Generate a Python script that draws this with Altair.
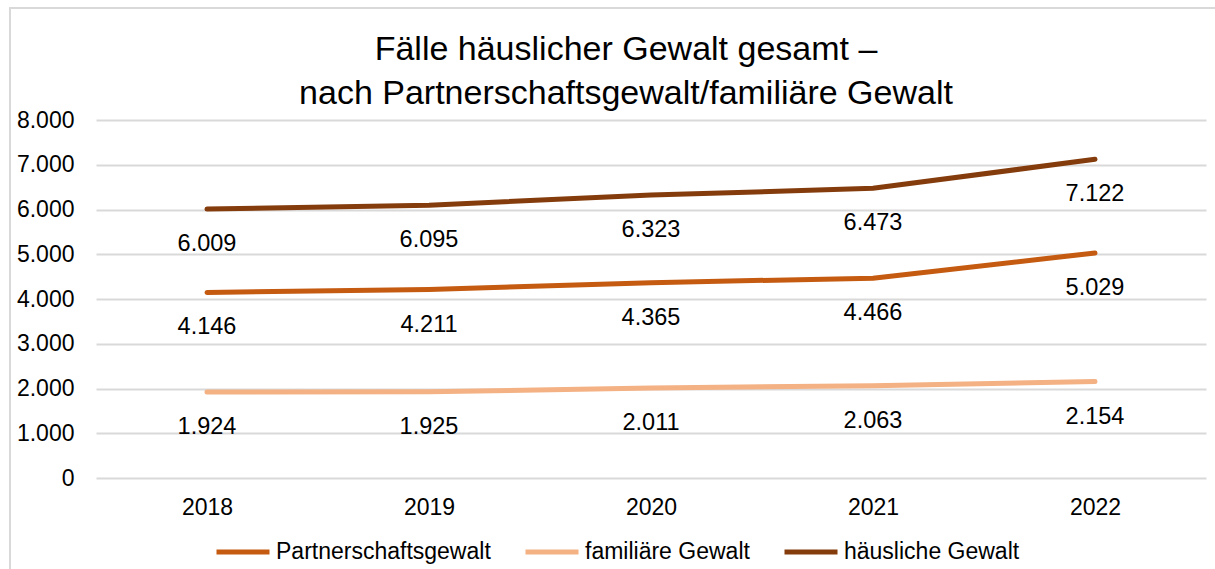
import altair as alt
import pandas as pd

years = ["2018", "2019", "2020", "2021", "2022"]
partner = [4146, 4211, 4365, 4466, 5029]
familie = [1924, 1925, 2011, 2063, 2154]
haeuslich = [6009, 6095, 6323, 6473, 7122]
series_names = ["Partnerschaftsgewalt", "familiäre Gewalt", "häusliche Gewalt"]
series_colors = ["#C55A11", "#F4B183", "#843C0C"]
y_ticks = [0, 1000, 2000, 3000, 4000, 5000, 6000, 7000, 8000]
title_lines = ["Fälle häuslicher Gewalt gesamt –", "nach Partnerschaftsgewalt/familiäre Gewalt"]

rows = []
for name, vals in zip(series_names, [partner, familie, haeuslich]):
    for y, v in zip(years, vals):
        rows.append({"Jahr": y, "Serie": name, "Wert": v})
df = pd.DataFrame(rows)

FONT = "Liberation Sans"

x_enc = alt.X("Jahr:O", scale=alt.Scale(type="point", padding=0.5),
              axis=alt.Axis(title=None, labelAngle=0, ticks=False, tickSize=0, domain=False,
                            labelPadding=18, labelFontSize=23, labelColor="#000000",
                            labelFont=FONT, grid=False))
y_enc = alt.Y("Wert:Q", scale=alt.Scale(domain=[0, 8000], nice=False),
              axis=alt.Axis(title=None, values=y_ticks, ticks=False, tickSize=0, domain=False,
                            labelPadding=22, labelFontSize=23, labelColor="#000000",
                            labelFont=FONT, gridColor="#D9D9D9", gridWidth=2,
                            labelExpr="replace(format(datum.value, ','), ',', '.')"))
color_enc = alt.Color("Serie:N",
                      scale=alt.Scale(domain=series_names, range=series_colors),
                      legend=alt.Legend(title=None, orient="none", legendX=118, legendY=403,
                                        direction="horizontal", columns=3, symbolType="stroke",
                                        symbolSize=2809, symbolStrokeWidth=5, labelFontSize=23,
                                        labelFont=FONT, labelColor="#000000", labelOffset=4,
                                        columnPadding=24, padding=0, labelLimit=400))

base = alt.Chart(df)

lines = base.mark_line(strokeWidth=5, strokeCap="round", strokeJoin="round").encode(
    x=x_enc, y=y_enc, color=color_enc, order=alt.Order("Jahr:O"))

labels = base.transform_calculate(
    lbl="replace(format(datum.Wert, ','), ',', '.')"
).mark_text(dy=35, fontSize=23.5, font=FONT, color="#000000", baseline="middle").encode(
    x="Jahr:O", y="Wert:Q", text="lbl:N")

border = alt.Chart(pd.DataFrame({"a": [0]})).mark_rect(
    fill=None, stroke="#D9D9D9", strokeWidth=2).encode(
    x=alt.value(10 - 96), y=alt.value(8 - 120), x2=alt.value(1400), y2=alt.value(700))

title1 = alt.Chart(pd.DataFrame({"t": [title_lines[0]]})).mark_text(
    fontSize=34, font=FONT, color="#000000", baseline="middle", align="center").encode(
    x=alt.value(530), y=alt.value(-70), text="t:N")
title2 = alt.Chart(pd.DataFrame({"t": [title_lines[1]]})).mark_text(
    fontSize=34, font=FONT, color="#000000", baseline="middle", align="center").encode(
    x=alt.value(530), y=alt.value(-26), text="t:N")

chart = alt.layer(border, lines, labels, title1, title2).properties(
    width=1110, height=358,
    padding={"left": 96, "top": 120, "right": 9, "bottom": 91},
    autosize=alt.AutoSizeParams(type="none"),
    background="#FFFFFF",
).configure_view(stroke=None)

chart.save("out.html", embed_options={"renderer": "svg", "actions": False})
